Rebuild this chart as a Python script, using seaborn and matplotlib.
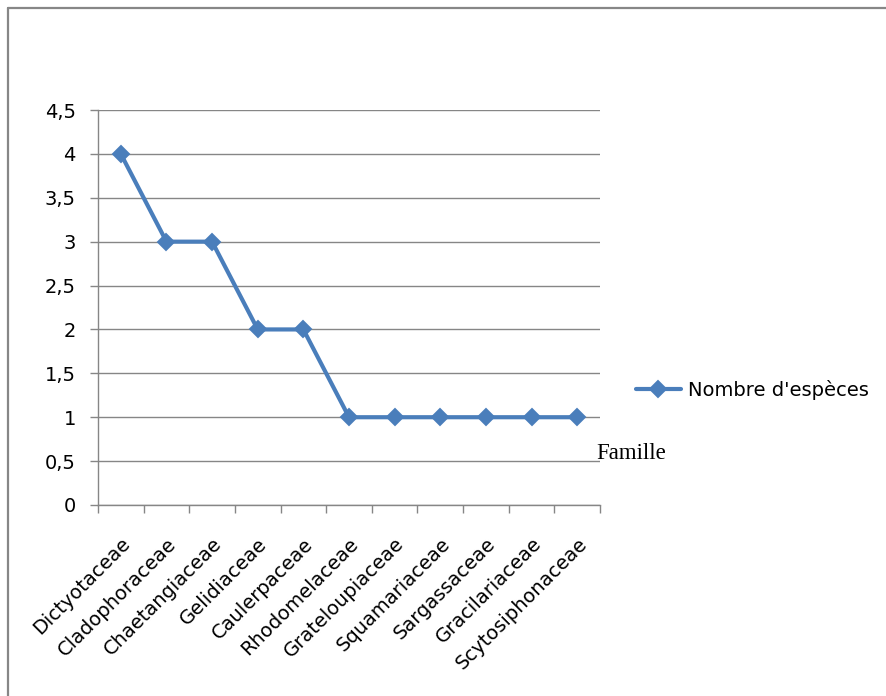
import matplotlib
matplotlib.use("Agg")
import matplotlib.pyplot as plt
import seaborn as sns
import pandas as pd
from matplotlib.lines import Line2D
from matplotlib.ticker import FixedLocator

familles = ["Dictyotaceae", "Cladophoraceae", "Chaetangiaceae", "Gelidiaceae",
            "Caulerpaceae", "Rhodomelaceae", "Grateloupiaceae", "Squamariaceae",
            "Sargassaceae", "Gracilariaceae", "Scytosiphonaceae"]
nombre_especes = [4, 3, 3, 2, 2, 1, 1, 1, 1, 1, 1]
y_ticks = [0, 0.5, 1, 1.5, 2, 2.5, 3, 3.5, 4, 4.5]
y_tick_labels = ["0", "0,5", "1", "1,5", "2", "2,5", "3", "3,5", "4", "4,5"]
series_name = "Nombre d'espèces"

df = pd.DataFrame({"Famille": familles, "N": nombre_especes})

sns.set_theme(style="white")
plt.rcParams["font.family"] = ["DejaVu Sans"]
plt.rcParams["text.color"] = "black"

W, H = 886, 696
fig = plt.figure(figsize=(W / 100, H / 100), dpi=100)
ax = fig.add_axes([98 / W, 1 - 505 / H, (600 - 98) / W, (505 - 110) / H])

blue = "#4A7EBB"
sns.lineplot(data=df, x="Famille", y="N", ax=ax, sort=False, color=blue,
             linewidth=3, marker="D", markersize=8.5, markeredgecolor=blue,
             markeredgewidth=1.4, markerfacecolor=blue, label=series_name)

grid_c = "#868686"
ax.set_xlim(-0.5, len(familles) - 0.5)
ax.set_ylim(0, 4.5)
ax.set_yticks(y_ticks)
ax.set_yticklabels(y_tick_labels, fontsize=14, color="black")
ax.yaxis.grid(True, color=grid_c, linewidth=1)
ax.xaxis.grid(False)
ax.set_axisbelow(True)

ax.set_xticks(range(len(familles)))
ax.set_xticklabels(familles, rotation=45, ha="right", rotation_mode="anchor",
                   fontsize=14, color="black")
ax.xaxis.set_minor_locator(FixedLocator([i - 0.5 for i in range(len(familles) + 1)]))
ax.tick_params(axis="x", which="major", length=0, pad=21)
ax.tick_params(axis="x", which="minor", length=6, width=1, color=grid_c, direction="out", bottom=True)
ax.tick_params(axis="y", which="major", length=6, width=1, color=grid_c, direction="out", left=True, pad=10)

for s in ["top", "right"]:
    ax.spines[s].set_visible(False)
for s in ["left", "bottom"]:
    ax.spines[s].set_color(grid_c)
    ax.spines[s].set_linewidth(1)

ax.set_xlabel("")
ax.set_ylabel("")

leg = ax.legend(loc="center left", bbox_to_anchor=(636 / W, 1 - 390 / H),
                bbox_transform=fig.transFigure, frameon=False, fontsize=14,
                handlelength=2.3, handletextpad=0.35, borderpad=0, borderaxespad=0,
                labelcolor="black")

fig.text(596 / W, 1 - 459 / H, "Famille", fontsize=16.5, family="Liberation Serif",
         va="baseline", ha="left", color="black")

# outer border (left and top)
fig.add_artist(Line2D([8 / W, 8 / W], [0, 1 - 8 / H], transform=fig.transFigure,
                      color="#878787", linewidth=1.6))
fig.add_artist(Line2D([8 / W, 1], [1 - 8 / H, 1 - 8 / H], transform=fig.transFigure,
                      color="#878787", linewidth=1.6))

fig.savefig("out.png", dpi=100)
